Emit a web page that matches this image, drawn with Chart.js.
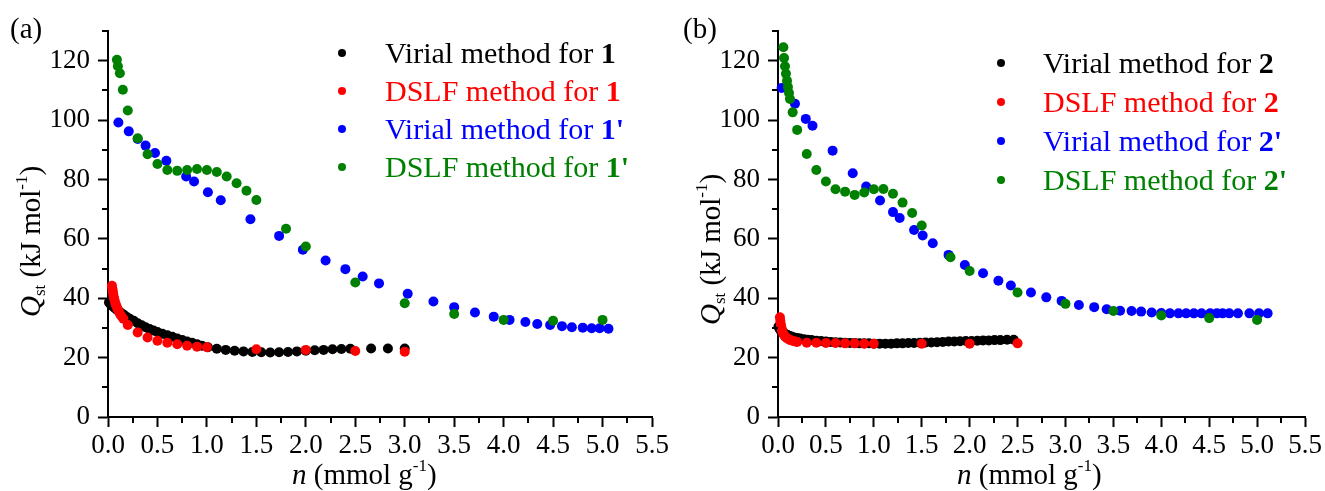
<!DOCTYPE html>
<html><head><meta charset="utf-8">
<script src="https://cdn.jsdelivr.net/npm/chart.js@4.4.0/dist/chart.umd.min.js"></script>
<style>
html,body{margin:0;padding:0;background:#fff;width:1325px;height:491px;overflow:hidden}
#ca{position:absolute;left:0;top:0}
#cb{position:absolute;left:680px;top:0}
</style></head><body>
<canvas id="ca" width="680" height="491"></canvas>
<canvas id="cb" width="645" height="491"></canvas>
<script>
// ---- tick values ----
const xTicks = [0,0.5,1,1.5,2,2.5,3,3.5,4,4.5,5,5.5];
const xMinorTicks = [0.25,0.75,1.25,1.75,2.25,2.75,3.25,3.75,4.25,4.75,5.25];
const yTicks = [0,20,40,60,80,100,120];
const yMinorTicks = [10,30,50,70,90,110,130];

// ---- legend text ----
const seriesNames = ['Virial method for ','DSLF method for ','Virial method for ','DSLF method for '];
const seriesColors = ['#000000','#ff0000','#0000ff','#008000'];

// ---- panel (a) data ----
const aVirial1X = [0.01,0.02,0.03,0.05,0.07,0.09,0.11,0.13,0.16,0.19,0.22,0.26,0.30,0.34,0.38,0.42,0.46,0.50,0.55,0.60,0.65,0.70,0.75,0.80,0.85,0.90,0.95,1.01,1.10,1.19,1.28,1.37,1.46,1.55,1.64,1.73,1.82,1.91,2.00,2.09,2.18,2.27,2.36,2.45,2.66,2.83,3.00];
const aVirial1Y = [38.6,38.2,37.8,37.2,36.6,36.1,35.6,35.1,34.4,33.7,33.1,32.4,31.6,30.9,30.2,29.6,29.1,28.6,28.0,27.5,27.0,26.4,25.9,25.4,25.0,24.5,24.0,23.5,23.0,22.6,22.3,22.1,21.9,21.8,21.7,21.8,21.9,22.1,22.3,22.5,22.6,22.8,22.9,23.0,23.1,23.1,23.1];
const aDslf1X = [0.040,0.044,0.048,0.052,0.057,0.063,0.070,0.078,0.087,0.097,0.108,0.12,0.135,0.155,0.20,0.30,0.40,0.50,0.60,0.70,0.80,0.90,1.00,1.50,2.00,2.50,3.00];
const aDslf1Y = [44.2,43.3,42.4,41.5,40.6,39.7,38.8,38.0,37.2,36.4,35.6,34.8,34.0,33.1,31.0,28.5,26.8,25.7,25.0,24.5,24.0,23.7,23.5,22.8,22.6,22.2,22.0];
const aVirial1pX = [0.105,0.21,0.30,0.38,0.475,0.59,0.79,0.87,1.01,1.14,1.44,1.73,1.97,2.20,2.40,2.575,2.74,3.03,3.29,3.50,3.71,3.90,4.06,4.22,4.34,4.47,4.59,4.69,4.80,4.89,4.97,5.06];
const aVirial1pY = [99.2,96.2,93.6,91.4,88.9,86.3,81.0,79.3,75.7,73.0,66.6,61.0,56.3,52.7,49.8,47.3,45.0,41.5,38.9,37.0,35.2,33.8,32.7,32.0,31.3,31.0,30.6,30.2,30.1,29.9,29.9,29.7];
const aDslf1pX = [0.09,0.10,0.12,0.15,0.20,0.30,0.40,0.50,0.60,0.70,0.80,0.90,1.00,1.10,1.20,1.30,1.40,1.50,1.80,2.00,2.50,3.00,3.50,4.00,4.50,5.00];
const aDslf1pY = [120.3,118.1,115.8,110.2,103.2,93.9,88.5,85.2,83.2,82.9,83.2,83.5,83.2,82.5,81.0,78.7,76.2,73.1,63.4,57.4,45.3,38.3,34.7,32.7,32.4,32.7];

// ---- panel (b) data ----
const bVirial2X = [0.005,0.015,0.025,0.035,0.05,0.065,0.08,0.10,0.12,0.14,0.17,0.20,0.23,0.27,0.31,0.35,0.40,0.45,0.50,0.55,0.60,0.65,0.70,0.75,0.80,0.85,0.90,0.95,1.00,1.06,1.12,1.18,1.24,1.30,1.36,1.42,1.48,1.54,1.60,1.66,1.72,1.78,1.84,1.90,1.96,2.02,2.08,2.14,2.20,2.26,2.32,2.39,2.46];
const bVirial2Y = [30.5,29.8,29.3,28.9,28.5,28.2,27.9,27.6,27.3,27.1,26.8,26.6,26.4,26.2,26.0,25.9,25.7,25.6,25.4,25.3,25.2,25.1,25.0,24.9,24.9,24.8,24.8,24.8,24.7,24.7,24.7,24.7,24.8,24.8,24.9,24.9,25.0,25.1,25.1,25.2,25.3,25.4,25.4,25.5,25.6,25.6,25.7,25.8,25.8,25.9,25.9,26.0,26.0];
const bDslf2X = [0.020,0.024,0.028,0.033,0.038,0.044,0.051,0.06,0.07,0.08,0.095,0.11,0.13,0.155,0.18,0.20,0.30,0.40,0.50,0.60,0.70,0.80,0.90,1.00,1.50,2.00,2.50];
const bDslf2Y = [33.6,32.4,31.4,30.5,29.7,29.0,28.4,27.8,27.3,26.9,26.5,26.2,25.9,25.6,25.4,25.3,25.0,25.0,24.9,24.9,24.8,24.8,24.7,24.7,24.7,24.7,24.8];
const bVirial2pX = [0.038,0.177,0.29,0.36,0.57,0.78,0.92,1.065,1.20,1.27,1.42,1.51,1.615,1.78,1.95,2.14,2.30,2.43,2.64,2.80,2.96,3.14,3.30,3.43,3.57,3.69,3.79,3.90,4.00,4.09,4.18,4.26,4.34,4.42,4.51,4.58,4.64,4.71,4.80,4.92,5.02,5.11];
const bVirial2pY = [110.8,105.5,100.4,98.1,89.7,82.1,77.6,72.9,69.0,67.0,63.0,61.1,58.5,54.6,51.2,48.4,45.9,44.3,41.9,40.3,39.1,37.7,37.0,36.3,35.8,35.7,35.5,35.2,35.0,34.9,34.9,34.9,34.9,34.9,34.9,34.9,34.9,34.9,34.9,34.9,34.9,34.9];
const bDslf2pX = [0.056,0.063,0.073,0.083,0.094,0.104,0.115,0.125,0.153,0.20,0.30,0.40,0.50,0.60,0.70,0.80,0.90,1.00,1.10,1.20,1.30,1.40,1.50,1.80,2.00,2.50,3.00,3.50,4.00,4.50,5.00];
const bDslf2pY = [124.5,120.9,118.1,115.6,113.2,111.1,109.1,107.1,102.6,96.7,88.6,83.2,79.3,76.7,75.9,74.8,75.6,76.7,76.8,75.2,72.2,68.7,64.5,53.8,49.2,41.9,38.1,35.7,34.2,33.3,32.7];

const SERIF = '"Liberation Serif","Times New Roman",serif';
const zip = (xs, ys) => xs.map((x, i) => ({x: x, y: ys[i]}));

function ds(label, xs, ys, color, order) {
  return {label: label, data: zip(xs, ys), backgroundColor: color, borderColor: color,
    pointRadius: 5, pointHoverRadius: 5, pointBorderWidth: 0, showLine: false, clip: false, order: order};
}

function drawRuns(ctx, runs, x, y) {
  let cx = x;
  for (const r of runs) {
    ctx.font = r[1];
    ctx.fillText(r[0], cx, y + (r[2] || 0));
    cx += ctx.measureText(r[0]).width;
  }
}

function panelPlugin(cfg) {
  return {
    id: 'panelDeco',
    afterDraw(chart) {
      const ctx = chart.ctx;
      const xs = chart.scales.x, ys = chart.scales.y, ca = chart.chartArea;
      ctx.save();
      // minor ticks
      ctx.strokeStyle = '#000'; ctx.lineWidth = 2;
      ctx.beginPath();
      for (const v of xMinorTicks) { const p = Math.round(xs.getPixelForValue(v)); ctx.moveTo(p, ca.bottom); ctx.lineTo(p, ca.bottom + 6); }
      for (const v of yMinorTicks) { const p = Math.round(ys.getPixelForValue(v)); ctx.moveTo(ca.left - 6, p); ctx.lineTo(ca.left, p); }
      ctx.stroke();
      ctx.fillStyle = '#000';
      ctx.textBaseline = 'alphabetic'; ctx.textAlign = 'left';
      // panel label
      ctx.font = '29px ' + SERIF;
      ctx.fillText(cfg.panel, cfg.panelX, 38);
      // x title
      drawRuns(ctx, [['n', 'italic 29px ' + SERIF, 0], [' (mmol g', '29px ' + SERIF, 0], ['-1', '17px ' + SERIF, -13], [')', '29px ' + SERIF, 0]], cfg.xTitleX, 484);
      // y title (rotated)
      ctx.save();
      ctx.translate(cfg.yTitleX, cfg.yTitleY);
      ctx.rotate(-Math.PI / 2);
      drawRuns(ctx, [['Q', 'italic 29px ' + SERIF, 0], ['st', '17px ' + SERIF, 5], [' (kJ mol', '29px ' + SERIF, 0], ['-1', '17px ' + SERIF, -13], [')', '29px ' + SERIF, 0]], 0, 0);
      ctx.restore();
      // legend
      for (let i = 0; i < 4; i++) {
        const cy = cfg.legendRows[i];
        ctx.fillStyle = seriesColors[i];
        ctx.beginPath(); ctx.arc(cfg.dotX, cy, 4, 0, Math.PI * 2); ctx.fill();
        const num = i < 2 ? cfg.num : cfg.num + "'";
        drawRuns(ctx, [[seriesNames[i], '30px ' + SERIF, 0], [num, 'bold 30px ' + SERIF, 0]], cfg.textX, cy + 10);
      }
      ctx.restore();
    }
  };
}

function makeChart(id, datasets, cfg) {
  return new Chart(document.getElementById(id), {
    type: 'scatter',
    data: {datasets: datasets},
    options: {
      responsive: false, animation: false, events: [],
      layout: {padding: {left: 0, top: 31, right: cfg.padRight, bottom: 0}},
      plugins: {legend: {display: false}, tooltip: {enabled: false}, title: {display: false}},
      scales: {
        x: {type: 'linear', min: 0, max: 5.5,
          afterBuildTicks: s => { s.ticks = xTicks.map(v => ({value: v})); },
          afterFit: s => { s.height = 74; s.paddingLeft = 0; s.paddingRight = 0; },
          ticks: {autoSkip: false, maxRotation: 0, minRotation: 0, padding: 3, color: '#000',
            font: {family: SERIF, size: 27}, callback: v => Number(v).toFixed(1)},
          grid: {drawOnChartArea: false, drawTicks: true, tickLength: 10, tickWidth: 2, tickColor: '#000'},
          border: {display: true, color: '#000', width: 2}
        },
        y: {type: 'linear', min: 0, max: 130,
          afterBuildTicks: s => { s.ticks = yTicks.map(v => ({value: v})); },
          afterFit: s => { s.width = cfg.yWidth; s.paddingTop = 0; s.paddingBottom = 0; },
          ticks: {padding: 8, color: '#000', font: {family: SERIF, size: 27}, callback: v => String(v)},
          grid: {drawOnChartArea: false, drawTicks: true, tickLength: 10, tickWidth: 2, tickColor: '#000'},
          border: {display: true, color: '#000', width: 2}
        }
      }
    },
    plugins: [panelPlugin(cfg)]
  });
}

makeChart('ca', [
  ds('Virial method for 1', aVirial1X, aVirial1Y, seriesColors[0], 3),
  ds('DSLF method for 1', aDslf1X, aDslf1Y, seriesColors[1], 2),
  ds("Virial method for 1'", aVirial1pX, aVirial1pY, seriesColors[2], 1),
  ds("DSLF method for 1'", aDslf1pX, aDslf1pY, seriesColors[3], 0)
], {panel: '(a)', panelX: 10, num: '1', yWidth: 108, padRight: 28, xTitleX: 292, yTitleX: 40, yTitleY: 317,
    dotX: 342, textX: 385, legendRows: [53, 91, 129, 167]});

makeChart('cb', [
  ds('Virial method for 2', bVirial2X, bVirial2Y, seriesColors[0], 3),
  ds('DSLF method for 2', bDslf2X, bDslf2Y, seriesColors[1], 2),
  ds("Virial method for 2'", bVirial2pX, bVirial2pY, seriesColors[2], 1),
  ds("DSLF method for 2'", bDslf2pX, bDslf2pY, seriesColors[3], 0)
], {panel: '(b)', panelX: 3, num: '2', yWidth: 98, padRight: 20, xTitleX: 277, yTitleX: 40, yTitleY: 325,
    dotX: 321, textX: 363, legendRows: [63, 102, 141, 180]});
</script>
</body></html>
